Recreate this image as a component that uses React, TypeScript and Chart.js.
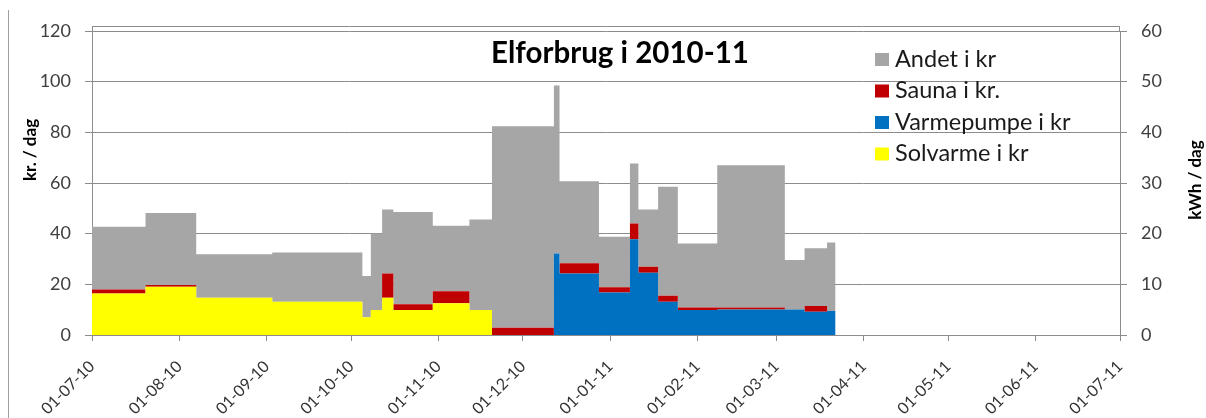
import React, { useEffect, useRef } from 'react';
import { Chart, registerables } from 'chart.js';

Chart.register(...registerables);

// Segment start dates (DD-MM-YY); each value holds until the next start
const segmentStarts = [
  '01-07-10', '20-07-10', '07-08-10', '03-09-10', '05-10-10', '08-10-10',
  '12-10-10', '16-10-10', '30-10-10', '12-11-10', '20-11-10', '12-12-10',
  '14-12-10', '28-12-10', '08-01-11', '11-01-11', '18-01-11', '25-01-11',
  '08-02-11', '04-03-11', '11-03-11', '19-03-11',
];
const lastDate = '22-03-11';

// kr. / dag per segment
const solvarme = [16.4, 19.0, 14.7, 13.1, 7.0, 9.9, 14.7, 9.9, 12.5, 9.9, 0, 0, 0, 0, 0, 0, 0, 0, 0, 0, 0, 0];
const varmepumpe = [0, 0, 0, 0, 0, 0, 0, 0, 0, 0, 0, 32.2, 24.3, 16.8, 37.8, 24.6, 13.1, 9.9, 10.1, 10.1, 9.2, 9.5];
const sauna = [1.6, 0.7, 0, 0, 0, 0, 9.6, 2.2, 4.8, 0, 2.9, 0, 4.0, 2.0, 6.2, 2.3, 2.4, 1.0, 0.8, 0, 2.2, 0];
const andet = [24.7, 28.5, 17.2, 19.5, 16.3, 30.2, 25.2, 36.5, 25.8, 35.7, 79.5, 66.3, 32.4, 20.0, 23.7, 22.6, 43.0, 25.2, 56.1, 19.5, 22.8, 27.0];

const seriesNames = ['Andet i kr', 'Sauna i kr.', 'Varmepumpe i kr', 'Solvarme i kr'];
const seriesColors = ['#A6A6A6', '#C00000', '#0070C0', '#FFFF00'];

const monthTicks = [
  '01-07-10', '01-08-10', '01-09-10', '01-10-10', '01-11-10', '01-12-10',
  '01-01-11', '01-02-11', '01-03-11', '01-04-11', '01-05-11', '01-06-11', '01-07-11',
];

const chartTitle = 'Elforbrug i 2010-11';
const leftTitle = 'kr. / dag';
const rightTitle = 'kWh / dag';

const FONT = 'Lato, "Open Sans", sans-serif';

function toDay(s: string): number {
  const [d, m, y] = s.split('-').map(Number);
  const t = Date.UTC(2000 + y, m - 1, d);
  const t0 = Date.UTC(2010, 6, 1);
  return Math.round((t - t0) / 86400000);
}

function points(vals: number[]) {
  const pts = segmentStarts.map((s, i) => ({ x: toDay(s), y: vals[i] }));
  pts.push({ x: toDay(lastDate), y: vals[vals.length - 1] });
  return pts;
}

const overlayPlugin = {
  id: 'overlay',
  afterDraw(chart: any) {
    const { ctx, chartArea } = chart;
    ctx.save();
    // plot frame
    ctx.strokeStyle = '#8C8C8C';
    ctx.lineWidth = 1;
    ctx.beginPath();
    ctx.moveTo(chartArea.left + 0.5, chartArea.top - 5 + 0.5);
    ctx.lineTo(chartArea.right - 0.5, chartArea.top - 5 + 0.5);
    ctx.moveTo(chartArea.left + 0.5, chartArea.top - 5);
    ctx.lineTo(chartArea.left + 0.5, chartArea.top);
    ctx.moveTo(chartArea.right - 0.5, chartArea.top - 5);
    ctx.lineTo(chartArea.right - 0.5, chartArea.top);
    ctx.stroke();
    // outer chart border fragment
    ctx.strokeStyle = '#A0A0A0';
    ctx.beginPath();
    ctx.moveTo(8.5, 10);
    ctx.lineTo(8.5, 418);
    ctx.stroke();

    // title
    ctx.fillStyle = '#000000';
    ctx.font = `bold 29.5px ${FONT}`;
    ctx.textAlign = 'center';
    ctx.textBaseline = 'alphabetic';
    ctx.fillText(chartTitle, 620, 63);

    // axis titles
    ctx.font = `bold 17px ${FONT}`;
    ctx.textBaseline = 'middle';
    ctx.save();
    ctx.translate(31, 150);
    ctx.rotate(-Math.PI / 2);
    ctx.fillText(leftTitle, 0, 0);
    ctx.restore();
    ctx.save();
    ctx.translate(1196, 180);
    ctx.rotate(-Math.PI / 2);
    ctx.fillText(rightTitle, 0, 0);
    ctx.restore();

    // legend
    ctx.font = `23.5px ${FONT}`;
    ctx.textAlign = 'left';
    ctx.textBaseline = 'alphabetic';
    const baselines = [66.5, 98, 129.5, 161];
    seriesNames.forEach((name, i) => {
      const b = baselines[i];
      ctx.fillStyle = seriesColors[i];
      ctx.fillRect(875, b - 13.5, 14, 13);
      ctx.fillStyle = '#1a1a1a';
      ctx.fillText(name, 895, b);
    });
    ctx.restore();
  },
};

export default function App() {
  const ref = useRef<HTMLCanvasElement | null>(null);

  useEffect(() => {
    if (!ref.current) return;
    const mk = (label: string, vals: number[], color: string, fill: any) => ({
      label,
      data: points(vals),
      backgroundColor: color,
      borderColor: color,
      borderWidth: 0,
      pointRadius: 0,
      stepped: true,
      fill,
      yAxisID: 'y',
    });
    const chart = new Chart(ref.current, {
      type: 'line',
      data: {
        datasets: [
          mk(seriesNames[3], solvarme, seriesColors[3], 'origin'),
          mk(seriesNames[2], varmepumpe, seriesColors[2], '-1'),
          mk(seriesNames[1], sauna, seriesColors[1], '-1'),
          mk(seriesNames[0], andet, seriesColors[0], '-1'),
        ],
      },
      options: {
        animation: false,
        responsive: false,
        maintainAspectRatio: false,
        layout: { padding: { top: 31, left: 0, right: 0, bottom: 0 } },
        plugins: {
          legend: { display: false },
          title: { display: false },
          tooltip: { enabled: false },
        },
        scales: {
          x: {
            type: 'linear',
            min: toDay(monthTicks[0]),
            max: toDay(monthTicks[monthTicks.length - 1]),
            afterBuildTicks: (scale: any) => {
              scale.ticks = monthTicks.map((m) => ({ value: toDay(m) }));
            },
            afterFit: (scale: any) => {
              scale.height = 83;
            },
            grid: { drawOnChartArea: false, drawTicks: true, tickLength: 6, color: '#8C8C8C' },
            border: { color: '#8C8C8C' },
            ticks: {
              autoSkip: false,
              minRotation: 45,
              maxRotation: 45,
              padding: 16,
              color: '#333333',
              font: { family: FONT, size: 16 },
              callback: (_v: any, i: number) => monthTicks[i],
            },
          },
          y: {
            type: 'linear',
            position: 'left',
            stacked: true,
            min: 0,
            max: 120,
            afterFit: (scale: any) => {
              scale.width = 92;
            },
            grid: { color: '#8C8C8C', tickLength: 7 },
            border: { color: '#8C8C8C' },
            ticks: {
              stepSize: 20,
              padding: 14,
              color: '#404040',
              font: { family: FONT, size: 18 },
            },
          },
          y2: {
            type: 'linear',
            position: 'right',
            display: true,
            min: 0,
            max: 60,
            afterFit: (scale: any) => {
              scale.width = 86;
            },
            grid: { drawOnChartArea: false, color: '#8C8C8C', tickLength: 7 },
            border: { color: '#8C8C8C' },
            ticks: {
              stepSize: 10,
              padding: 14,
              color: '#404040',
              font: { family: FONT, size: 18 },
            },
          },
        },
      } as any,
      plugins: [overlayPlugin],
    });
    return () => chart.destroy();
  }, []);

  return (
    <div style={{ position: 'absolute', left: 0, top: 0, width: 1206, height: 418, background: '#fff' }}>
      <canvas ref={ref} width={1206} height={418} style={{ width: 1206, height: 418, display: 'block' }} />
    </div>
  );
}
